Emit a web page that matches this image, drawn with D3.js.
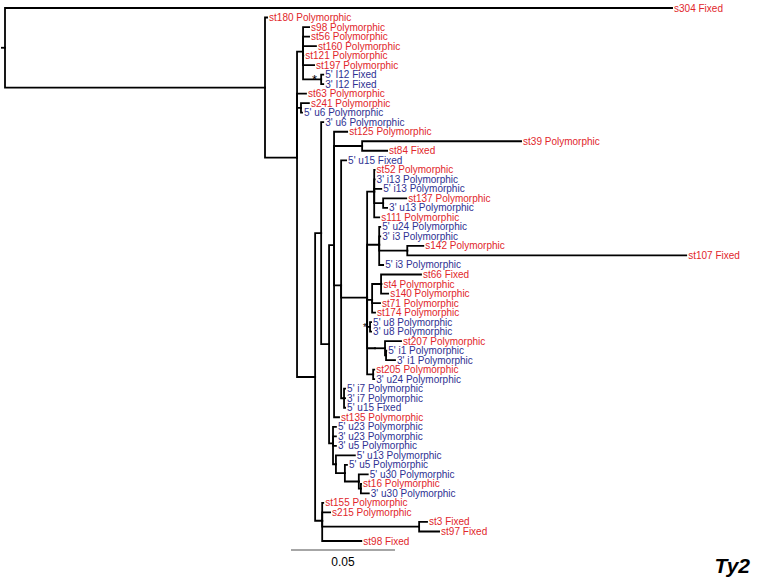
<!DOCTYPE html>
<html><head><meta charset="utf-8">
<script src="https://cdn.jsdelivr.net/npm/d3@7"></script>
<style>body{margin:0;background:#fff}svg{display:block}</style>
</head><body>
<svg id="c" width="760" height="580"></svg>
<script>
// edges: [node, parent, branch length (substitutions/site)]
const edges = [
["root", "", 0],
["s304 Fixed","root",0.3207],
["A","root",0.1250],
["st180 Polymorphic","A",0.0010],
["B","A",0.0154],
["C1","B",0.0029],
["s98 Polymorphic","C1",0.0029],
["st56 Polymorphic","C1",0.0029],
["st160 Polymorphic","C1",0.0062],
["st121 Polymorphic","C1",0.0001],
["st197 Polymorphic","C1",0.0053],
["I12","C1",0.0087],
["5' I12 Fixed","I12",0.0010],
["3' I12 Fixed","I12",0.0010],
["st63 Polymorphic","B",0.0043],
["C2","B",0.0019],
["s241 Polymorphic","C2",0.0038],
["5' u6 Polymorphic","C2",0.0005],
["E","B",0.0087],
["F","E",0.0029],
["3' u6 Polymorphic","F",0.0010],
["G","F",0.0038],
["H","G",0.0024],
["st125 Polymorphic","H",0.0063],
["K","H",0.0135],
["st39 Polymorphic","K",0.0764],
["st84 Fixed","K",0.0120],
["M","H",0.0034],
["5' u15 Fixed","M",0.0024],
["N","M",0.0125],
["P1","N",0.0034],
["st52 Polymorphic","P1",0.0002],
["3' i13 Polymorphic","P1",0.0002],
["5' i13 Polymorphic","P1",0.0034],
["R","P1",0.0043],
["st137 Polymorphic","R",0.0111],
["3' u13 Polymorphic","R",0.0019],
["s111 Polymorphic","P1",0.0024],
["P2","N",0.0058],
["5' u24 Polymorphic","P2",0.0005],
["3' i3 Polymorphic","P2",0.0005],
["S","P2",0.0135],
["s142 Polymorphic","S",0.0077],
["st107 Fixed","S",0.1341],
["5' i3 Polymorphic","P2",0.0019],
["P3","N",0.0024],
["P3a","P3",0.0043],
["st66 Fixed","P3a",0.0192],
["st4 Polymorphic","P3a",0.0002],
["s140 Polymorphic","P3a",0.0034],
["st71 Polymorphic","P3",0.0038],
["st174 Polymorphic","P3",0.0014],
["U8","N",0.0014],
["5' u8 Polymorphic","U8",0.0005],
["3' u8 Polymorphic","U8",0.0005],
["P4","N",0.0038],
["T","P4",0.0048],
["st207 Polymorphic","T",0.0077],
["U","T",0.0005],
["5' i1 Polymorphic","U",0.0001],
["3' i1 Polymorphic","U",0.0043],
["P5","N",0.0029],
["st205 Polymorphic","P5",0.0005],
["3' u24 Polymorphic","P5",0.0005],
["I7","M",0.0014],
["5' i7 Polymorphic","I7",0.0005],
["3' i7 Polymorphic","I7",0.0005],
["5' u15 Fixed ","I7",0.0005],
["st135 Polymorphic","H",0.0024],
["L","G",0.0019],
["5' u23 Polymorphic","L",0.0014],
["3' u23 Polymorphic","L",0.0014],
["3' u5 Polymorphic","L",0.0014],
["W","L",0.0014],
["5' u13 Polymorphic","W",0.0091],
["X","W",0.0043],
["5' u5 Polymorphic","X",0.0010],
["Y","X",0.0067],
["5' u30 Polymorphic","Y",0.0043],
["Z","Y",0.0010],
["st16 Polymorphic","Z",0.0001],
["3' u30 Polymorphic","Z",0.0038],
["Q","E",0.0034],
["st155 Polymorphic","Q",0.0005],
["s215 Polymorphic","Q",0.0038],
["V","Q",0.0466],
["st3 Fixed","V",0.0038],
["st97 Fixed","V",0.0096],
["st98 Fixed","Q",0.0188]
];
// nodes marked with an asterisk: [node, size]
const starred = [["I12",13],["U8",10]];
const scaleBarValue = 0.05;
const scaleBarLabel = "0.05";
const title = "Ty2";

const red = "#e1262b", blue = "#2e3192";
const svg = d3.select("#c");

const root = d3.stratify().id(d=>d[0]).parentId(d=>d[1]||null)(edges);
root.eachBefore(n => { n.dist = n.parent ? n.parent.dist + n.data[2] : 0; });
const leaves = root.leaves();

const x = d3.scaleLinear().domain([0, scaleBarValue]).range([5, 109]);
const y = d3.scaleLinear().domain([0, leaves.length-1]).range([8, 541]);

leaves.forEach((l,i) => { l.py = y(i); });
root.eachAfter(n => { if (n.children) n.py = d3.mean(n.children, c => c.py); n.px = x(n.dist); });

const g = svg.append("g");
g.selectAll("path.link").data(root.descendants().slice(1)).join("path")
  .attr("class","link")
  .attr("d", n => `M${n.parent.px},${n.parent.py}V${n.py}H${n.px}`)
  .attr("fill","none").attr("stroke","#000").attr("stroke-width",1.8)
  .attr("stroke-linecap","square");
// root stem
g.append("path").attr("d", `M${root.px-4},${root.py}H${root.px}`)
  .attr("stroke","#000").attr("stroke-width",1.8);

g.selectAll("text.leaf").data(leaves).join("text")
  .attr("class","leaf")
  .attr("x", n => n.px + 2).attr("y", n => n.py)
  .attr("dy","0.35em")
  .attr("font-family","Liberation Sans, Arial, sans-serif").attr("font-size",10)
  .attr("fill", n => /^[35]'/.test(n.id) ? blue : red)
  .text(n => n.id.trim());

const nodeById = new Map(root.descendants().map(n => [n.id, n]));
g.selectAll("text.star").data(starred).join("text")
  .attr("class","star")
  .attr("x", d => nodeById.get(d[0]).px - d[1]*0.7)
  .attr("y", d => nodeById.get(d[0]).py + d[1]*0.38)
  .attr("font-family","Liberation Sans, Arial, sans-serif").attr("font-size", d => d[1])
  .attr("fill","#000").text("*");

// scale bar
const sb0 = x(0) + 286;
svg.append("line").attr("x1", sb0).attr("x2", sb0 + x(scaleBarValue) - x(0))
  .attr("y1",550).attr("y2",550).attr("stroke","#888").attr("stroke-width",1.5);
svg.append("text").attr("x", sb0 + (x(scaleBarValue)-x(0))/2).attr("y",566)
  .attr("text-anchor","middle").attr("font-family","Liberation Sans, Arial, sans-serif")
  .attr("font-size",12).attr("fill","#000").text(scaleBarLabel);
svg.append("text").attr("x",750).attr("y",573).attr("text-anchor","end")
  .attr("font-family","Liberation Sans, Arial, sans-serif").attr("font-size",21)
  .attr("font-weight","bold").attr("font-style","italic").text(title);
</script>
</body></html>
